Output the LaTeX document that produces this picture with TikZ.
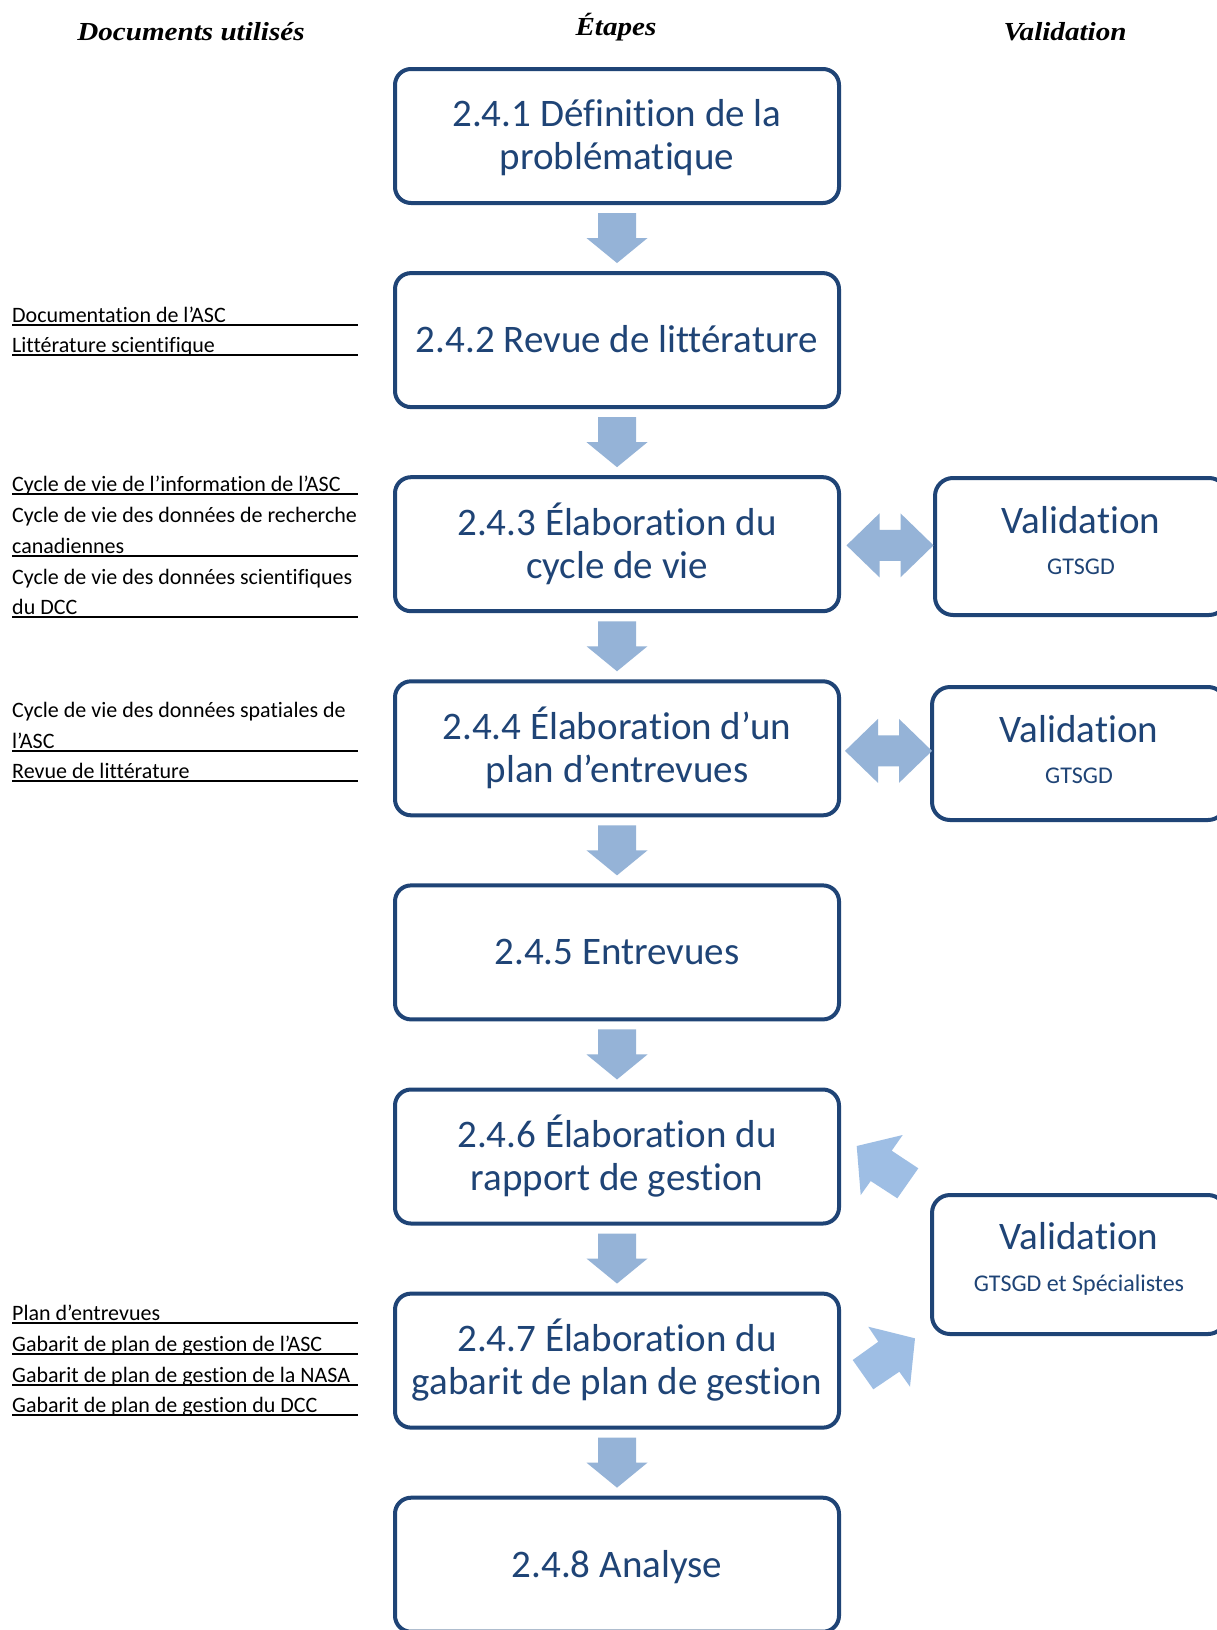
\documentclass[tikz,border=0pt]{standalone}
\usepackage{fontspec}
\setmainfont{Carlito}[Ligatures={TeX,NoCommon}]
\newfontfamily\hdrfont[FakeStretch=1.12]{Liberation Serif}
\usetikzlibrary{calc}
\definecolor{navy}{RGB}{31,68,118}
\definecolor{arrowblue}{RGB}{149,179,215}
\definecolor{arrowlight}{RGB}{158,190,228}
\tikzset{
  stepbox/.style={draw=navy, line width=4pt, rounded corners=16pt, minimum width=444pt, minimum height=134pt, inner sep=0pt, fill=white},
  valbox/.style={draw=navy, line width=4pt, rounded corners=18pt, inner sep=0pt, fill=white},
  steptext/.style={anchor=base, inner sep=0pt, text=navy, font=\fontsize{39}{40}\selectfont},
  valsub/.style={anchor=base, inner sep=0pt, text=navy, font=\fontsize{24}{26}\selectfont},
  doc/.style={anchor=base west, inner sep=0pt, font=\fontsize{22}{24}\selectfont},
  uline/.style={line width=1.4pt, black},
  header/.style={anchor=base, inner sep=0pt, font=\hdrfont\bfseries\itshape\fontsize{26}{28}\selectfont},
  blockarrow/.style={fill=arrowblue, draw=none},
  diagarrow/.style={fill=arrowlight, draw=none},
}
\begin{document}
\begin{tikzpicture}[x=1pt,y=-1pt]
\useasboundingbox (0,0) rectangle (1217,1630);
\clip (0,0) rectangle (1217,1630);
\fill[white] (0,0) rectangle (1217,1630);

% headers
\node[header] (h1) at (191,40) {Documents utilisés};
\node[header] (h2) at (616,35) {Étapes};
\node[header] (h3) at (1065,40) {Validation};

% main step boxes
\node[stepbox] (b1) at (617,136) {};
\node[stepbox] (b2) at (617,340.1) {};
\node[stepbox] (b3) at (617,544.2) {};
\node[stepbox] (b4) at (617,748.3) {};
\node[stepbox] (b5) at (617,952.4) {};
\node[stepbox] (b6) at (617,1156.5) {};
\node[stepbox] (b7) at (617,1360.6) {};
\node[stepbox] (b8) at (617,1564.7) {};

% texts in step boxes
\node[steptext] (b1a) at ($(b1.center)+(0,-10)$) {2.4.1 Définition de la};
\node[steptext] (b1b) at ($(b1.center)+(0,33)$) {problématique};
\node[steptext] (b2a) at ($(b2.center)+(0,12.5)$) {2.4.2 Revue de littérature};
\node[steptext] (b3a) at ($(b3.center)+(0,-9)$) {2.4.3 Élaboration du};
\node[steptext] (b3b) at ($(b3.center)+(0,34)$) {cycle de vie};
\node[steptext] (b4a) at ($(b4.center)+(0,-9)$) {2.4.4 Élaboration d’un};
\node[steptext] (b4b) at ($(b4.center)+(0,34)$) {plan d’entrevues};
\node[steptext] (b5a) at ($(b5.center)+(0,12.5)$) {2.4.5 Entrevues};
\node[steptext] (b6a) at ($(b6.center)+(0,-9)$) {2.4.6 Élaboration du};
\node[steptext] (b6b) at ($(b6.center)+(0,34)$) {rapport de gestion};
\node[steptext] (b7a) at ($(b7.center)+(0,-9)$) {2.4.7 Élaboration du};
\node[steptext] (b7b) at ($(b7.center)+(0,34)$) {gabarit de plan de gestion};
\node[steptext] (b8a) at ($(b8.center)+(0,12.5)$) {2.4.8 Analyse};

% vertical block arrows
\foreach \a/\b in {b1/b2,b2/b3,b3/b4,b4/b5,b5/b6,b6/b7,b7/b8}{
  \coordinate (m\a) at ($(\a.south)!0.5!(\b.north)$);
  \fill[blockarrow, shift={(m\a)}] (-19,-25) -- (19,-25) -- (19,0) -- (30.5,0) -- (0,25) -- (-30.5,0) -- (-19,0) -- cycle;
}

% validation boxes
\node[valbox, minimum width=292pt, minimum height=137pt] (v1) at (1081,546.5) {};
\node[valbox, minimum width=294pt, minimum height=133pt] (v2) at (1079,753.5) {};
\node[valbox, minimum width=294pt, minimum height=139pt] (v3) at (1079,1264.5) {};
\node[steptext] (v1a) at (1081,533.5) {Validation};
\node[valsub] (v1b) at (1081,574.5) {GTSGD};
\node[steptext] (v2a) at (1079,742) {Validation};
\node[valsub] (v2b) at (1079,783) {GTSGD};
\node[steptext] (v3a) at (1079,1249) {Validation};
\node[valsub] (v3b) at (1079,1291) {GTSGD et Spécialistes};

% double arrows
\coordinate (x1) at ($(b3.east)!0.5!(v1.west)+(3,0)$);
\coordinate (x2) at ($(b4.east)!0.5!(v2.west)+(3,0)$);
\foreach \c in {x1,x2}{
  \fill[blockarrow, shift={(\c)}] (-43.5,0) -- (-10.5,-32) -- (-10.5,-15.5) -- (10.5,-15.5) -- (10.5,-32) -- (43.5,0) -- (10.5,32) -- (10.5,15.5) -- (-10.5,15.5) -- (-10.5,32) -- cycle;
}

% diagonal arrows
\fill[diagarrow] (856.7,1146) -- (902.7,1135) -- (891.7,1150.7) -- (918.3,1168.3) -- (897.3,1198.3) -- (870.7,1181) -- (860.7,1195) -- cycle;
\fill[diagarrow] (915,1338.3) -- (868.3,1326.7) -- (878.3,1341.7) -- (852.7,1360) -- (873.3,1389.3) -- (899.3,1371.7) -- (910,1386.7) -- cycle;

% documents
\node[doc] (d1) at (12,322.5) {Documentation de l’ASC};
\node[doc] (d2) at (12,352.5) {Littérature scientifique};
\node[doc] (d3) at (12,491.5) {Cycle de vie de l’information de l’ASC};
\node[doc] (d4) at (12,522.5) {Cycle de vie des données de recherche};
\node[doc] (d5) at (12,553.5) {canadiennes};
\node[doc] (d6) at (12,584) {Cycle de vie des données scientifiques};
\node[doc] (d7) at (12,614.5) {du DCC};
\node[doc] (d8) at (12,717.5) {Cycle de vie des données spatiales de};
\node[doc] (d9) at (12,748.5) {l’ASC};
\node[doc] (d10) at (12,778.5) {Revue de littérature};
\node[doc] (d11) at (12,1320.5) {Plan d’entrevues};
\node[doc] (d12) at (12,1351.5) {Gabarit de plan de gestion de l’ASC};
\node[doc] (d13) at (12,1382.5) {Gabarit de plan de gestion de la NASA};
\node[doc] (d14) at (12,1412.5) {Gabarit de plan de gestion du DCC};
\foreach \d in {d1,d2,d3,d5,d7,d9,d10,d11,d12,d13,d14}{
  \draw[uline] ([yshift=-2.5pt]\d.base west) -- ++(346,0);
}
\end{tikzpicture}
\end{document}
